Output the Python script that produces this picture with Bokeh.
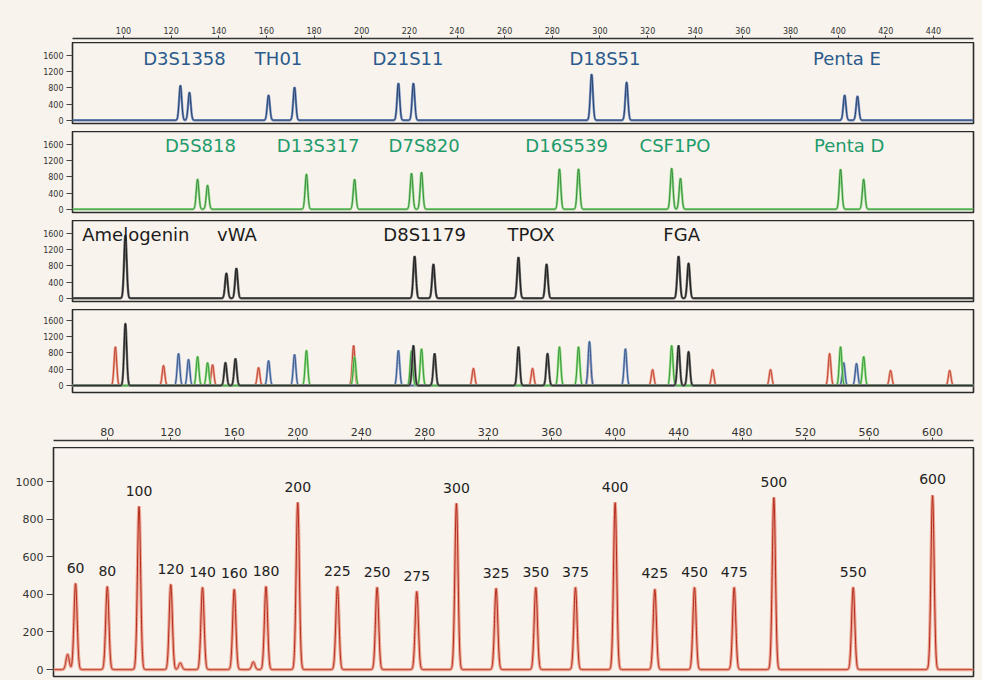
import numpy as np
from bokeh.plotting import figure
from bokeh.layouts import column
from bokeh.models import FixedTicker, Range1d
from bokeh.embed import file_html
from bokeh.resources import INLINE
from bokeh.core.properties import value

# ---------------- data ----------------
top_ticks = [100, 120, 140, 160, 180, 200, 220, 240, 260, 280, 300, 320, 340, 360, 380, 400, 420, 440]
panel_yticks = [0, 400, 800, 1200, 1600]
bottom_ticks = [80, 120, 160, 200, 240, 280, 320, 360, 400, 440, 480, 520, 560, 600]
bottom_yticks = [0, 200, 400, 600, 800, 1000]

blue_pos = [123.9, 127.7, 160.9, 171.8, 215.4, 221.7, 296.5, 311.2, 402.7, 408.1]
blue_hgt = [861, 688, 619, 817, 916, 916, 1139, 940, 619, 594]
blue_loci = ["D3S1358", "TH01", "D21S11", "D18S51", "Penta E"]
blue_loci_x = [125.6, 165.1, 219.4, 302.1, 403.7]

green_pos = [131.1, 135.3, 176.8, 197.0, 220.9, 225.1, 283.0, 291.0, 330.1, 333.8, 401.0, 410.7]
green_hgt = [743, 594, 866, 743, 891, 916, 1000, 1000, 1015, 767, 990, 743]
green_loci = ["D5S818", "D13S317", "D7S820", "D16S539", "CSF1PO", "Penta D"]
green_loci_x = [132.3, 181.7, 226.2, 286.0, 331.5, 404.6]

black_pos = [100.8, 143.2, 147.4, 222.2, 230.1, 265.8, 277.6, 333.0, 337.2]
black_hgt = [1560, 619, 742, 1040, 842, 1015, 842, 1040, 866]
black_loci = ["Amelogenin", "vWA", "D8S1179", "TPOX", "FGA"]
black_loci_x = [105.2, 147.6, 226.4, 271.1, 334.3]

mix_red_pos = [96.6, 116.8, 137.4, 156.7, 196.6, 246.9, 271.7, 295.6, 322.1, 347.3, 371.6, 396.4, 422.0, 446.8]
mix_red_hgt = [950, 490, 510, 440, 980, 420, 420, 900, 390, 390, 390, 785, 370, 370]
mix_blue_pos = [123.1, 127.3, 160.9, 171.8, 215.4, 295.6, 310.7, 402.3, 407.7]
mix_blue_hgt = [785, 640, 610, 760, 860, 1080, 900, 560, 540]
mix_green_pos = [131.1, 135.3, 176.8, 197.0, 220.9, 225.1, 283.0, 291.0, 330.1, 401.0, 410.7]
mix_green_hgt = [710, 560, 860, 700, 850, 900, 950, 950, 980, 950, 710]
mix_black_pos = [100.8, 142.8, 147.0, 221.7, 230.6, 265.8, 278.0, 333.0, 337.2]
mix_black_hgt = [1520, 560, 660, 980, 785, 950, 785, 980, 830]

ladder_bp = [60, 80, 100, 120, 140, 160, 180, 200, 225, 250, 275, 300, 325, 350, 375, 400, 425, 450, 475, 500, 550, 600]
ladder_hgt = [457, 441, 867, 452, 436, 426, 441, 888, 441, 436, 415, 883, 431, 436, 436, 888, 426, 436, 436, 915, 436, 926]
artifact_bp = [55, 126, 172]
artifact_hgt = [80, 35, 40]

# ---------------- styling ----------------
BG = "#f8f3ec"
FONT = "DejaVu Sans"
W = 980
RB = 7
XT0, XT1 = 78.6, 456.8
XB0, XB1 = 46.1, 625.8


def trace(grid, pos, hgt, sigma):
    y = np.zeros_like(grid)
    for p_, h_ in zip(pos, hgt):
        y += h_ * np.exp(-0.5 * ((grid - p_) / sigma) ** 2)
    return y


def base_fig(h, xr, yr, left, top, bottom, xloc=None, yloc="left"):
    p = figure(width=W, height=h, x_range=Range1d(*xr), y_range=Range1d(*yr),
               x_axis_location=xloc, y_axis_location=yloc,
               output_backend="svg", toolbar_location=None,
               min_border_left=left, min_border_right=RB,
               min_border_top=top, min_border_bottom=bottom)
    p.grid.visible = False
    p.background_fill_color = BG
    p.border_fill_color = BG
    return p


def style_yaxis(p, ticks, fs, tick_out):
    ax = p.yaxis[0]
    ax.ticker = FixedTicker(ticks=ticks)
    ax.major_label_text_font = FONT
    ax.major_label_text_font_size = fs
    ax.major_label_text_color = "#333333"
    ax.major_tick_out = tick_out
    ax.major_tick_in = 0
    ax.minor_tick_out = 0
    ax.minor_tick_in = 0
    ax.major_tick_line_color = "#444444"
    ax.axis_line_color = None
    ax.major_label_standoff = 3


def style_xaxis(p, ticks, fs):
    ax = p.xaxis[0]
    ax.ticker = FixedTicker(ticks=ticks)
    ax.major_label_text_font = FONT
    ax.major_label_text_font_size = fs
    ax.major_label_text_color = "#333333"
    ax.major_tick_out = 3
    ax.major_tick_in = 0
    ax.minor_tick_out = 0
    ax.minor_tick_in = 0
    ax.major_tick_line_color = "#444444"
    ax.axis_line_color = "#333333"
    ax.axis_line_width = 1.3
    ax.major_label_standoff = 2


def outline(p):
    p.outline_line_color = "#2a2a2a"
    p.outline_line_width = 1.6


def axis_fig(h, xr, ticks, fs, top, left):
    p = base_fig(h, xr, (0, 1), left, top, 0, xloc="above", yloc=None)
    style_xaxis(p, ticks, fs)
    p.outline_line_color = None
    return p


def draw(p, grid, pos, hgt, sigma, outer, inner, w_out=2.4, w_in=0.9):
    y = trace(grid, pos, hgt, sigma)
    p.line(grid, y, line_color=outer, line_width=w_out)
    p.line(grid, y, line_color=inner, line_width=w_in)


gt = np.arange(XT0, XT1, 0.08)
SIG = 0.55
TOP_YR = (-80, 1925)
LOCUS_FS = "18px"

# top axis
fa = axis_fig(42, (XT0, XT1), top_ticks, "8px", 38, 72)

# blue panel
fb = base_fig(89, (XT0, XT1), TOP_YR, 72, 0, 8)
style_yaxis(fb, panel_yticks, "8px", 6)
outline(fb)
draw(fb, gt, blue_pos, blue_hgt, SIG, "#7593c6", "#1f3358")
fb.text(x=blue_loci_x, y=[1530] * len(blue_loci), text=blue_loci,
        text_font=value(FONT), text_font_size=LOCUS_FS, text_color="#2b5a8c",
        text_align="center", text_baseline="middle")

# green panel
fc = base_fig(89, (XT0, XT1), TOP_YR, 72, 0, 8)
style_yaxis(fc, panel_yticks, "8px", 6)
outline(fc)
draw(fc, gt, green_pos, green_hgt, SIG, "#8fdc88", "#2f7d36")
fc.text(x=green_loci_x, y=[1580] * len(green_loci), text=green_loci,
        text_font=value(FONT), text_font_size=LOCUS_FS, text_color="#1e9b6b",
        text_align="center", text_baseline="middle")

# black panel
fd = base_fig(89, (XT0, XT1), TOP_YR, 72, 0, 8)
style_yaxis(fd, panel_yticks, "8px", 6)
outline(fd)
draw(fd, gt, black_pos, black_hgt, SIG, "#666666", "#111111")
fd.text(x=black_loci_x, y=[1570] * len(black_loci), text=black_loci,
        text_font=value(FONT), text_font_size=LOCUS_FS, text_color="#1c1c1c",
        text_align="center", text_baseline="middle")

# combined panel
fe = base_fig(91, (XT0, XT1), (-170, 1865), 72, 0, 8)
style_yaxis(fe, panel_yticks, "8px", 6)
outline(fe)
draw(fe, gt, mix_red_pos, mix_red_hgt, SIG, "#eda08c", "#b8392a")
draw(fe, gt, mix_blue_pos, mix_blue_hgt, SIG, "#94acd6", "#2e4a78")
draw(fe, gt, mix_green_pos, mix_green_hgt, SIG, "#92e07e", "#2f8a3a")
draw(fe, gt, mix_black_pos, mix_black_hgt, SIG, "#707070", "#111111")

# bottom axis
ff = axis_fig(47, (XB0, XB1), bottom_ticks, "11px", 40, 53)

# bottom ladder panel
gb = np.arange(XB0, XB1, 0.08)
fg = base_fig(231, (XB0, XB1), (-37, 1181), 53, 0, 2)
style_yaxis(fg, bottom_yticks, "11px", 7)
outline(fg)
yb = trace(gb, ladder_bp + artifact_bp, ladder_hgt + artifact_hgt, 1.0)
fg.line(gb, yb, line_color="#eca592", line_width=3.2)
fg.line(gb, yb, line_color="#b22a1e", line_width=1.0)
fg.text(x=ladder_bp, y=ladder_hgt, text=[str(v) for v in ladder_bp],
        text_font=value(FONT), text_font_size="14px", text_color="#222222",
        text_align="center", text_baseline="middle", y_offset=-16)

top_block = column(fa, fb, fc, fd, fe, spacing=0)
bottom_block = column(ff, fg, spacing=0)
html = file_html([top_block, bottom_block], INLINE, title="Electropherogram")
html = html.replace("<body>", '<body style="background-color:%s;">' % BG)
open("out.html", "w").write(html)
